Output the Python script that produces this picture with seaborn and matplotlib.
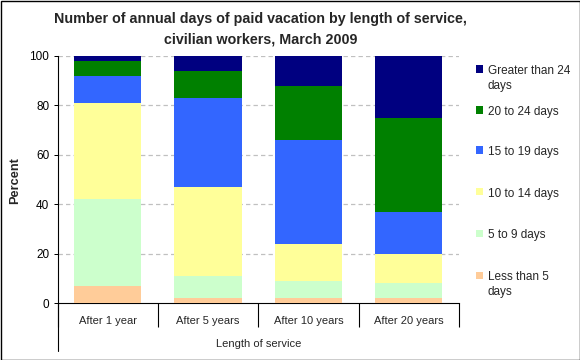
import textwrap
import numpy as np
import pandas as pd
import matplotlib
matplotlib.use("Agg")
import matplotlib.pyplot as plt
from matplotlib.patches import Rectangle
from matplotlib.lines import Line2D
import seaborn as sns

# ---- data ----
categories = ["After 1 year", "After 5 years", "After 10 years", "After 20 years"]
series_names = ["Less than 5 days", "5 to 9 days", "10 to 14 days",
                "15 to 19 days", "20 to 24 days", "Greater than 24 days"]
less_than_5 = [7, 2, 2, 2]
days_5_9 = [35, 9, 7, 6]
days_10_14 = [39, 36, 15, 12]
days_15_19 = [11, 36, 42, 17]
days_20_24 = [6, 11, 22, 38]
greater_24 = [2, 6, 12, 25]
series_values = [less_than_5, days_5_9, days_10_14, days_15_19, days_20_24, greater_24]
colors = ["#FFCC99", "#CCFFCC", "#FFFF99", "#3366FF", "#008000", "#000080"]
y_ticks = [0, 20, 40, 60, 80, 100]
title = "Number of annual days of paid vacation by length of service,\ncivilian workers, March 2009"
x_label = "Length of service"
y_label = "Percent"

sns.set_theme(style="white")
plt.rcParams["font.family"] = ["Liberation Sans", "DejaVu Sans"]

W, H = 580, 360
fig = plt.figure(figsize=(W / 100, H / 100), dpi=100)
fig.patch.set_facecolor("white")

ax_l, ax_r, ax_t, ax_b = 57.5, 459, 56, 303
ax = fig.add_axes([ax_l / W, 1 - ax_b / H, (ax_r - ax_l) / W, (ax_b - ax_t) / H])
ax.set_facecolor("white")

bottom = np.zeros(len(categories))
for name, vals, col in zip(series_names, series_values, colors):
    sns.barplot(x=categories, y=vals, bottom=bottom, color=col, width=0.67,
                saturation=1, linewidth=0, errorbar=None, ax=ax, zorder=3)
    bottom = bottom + np.array(vals)

ax.set_xlim(-0.5, len(categories) - 0.5)
ax.set_ylim(0, 100)
ax.set_yticks(y_ticks)
ax.set_yticklabels([str(t) for t in y_ticks], fontsize=8.5)
ax.tick_params(axis="y", direction="out", length=3, width=0.72, pad=3,
               left=True, colors="black")
for t in y_ticks[1:]:
    ax.axhline(t, color="#C0C0C0", lw=0.9, ls=(0, (3.5, 2.5)), zorder=1)

# category axis with separators
ax.set_xticks(np.arange(-0.5, len(categories)), minor=False)
ax.set_xticklabels([""] * (len(categories) + 1))
ax.set_xticks(np.arange(len(categories)), minor=True)
ax.set_xticklabels(categories, minor=True, fontsize=8)
ax.tick_params(axis="x", which="major", direction="out", length=17.3, width=0.8,
               bottom=True, colors="black")
ax.tick_params(axis="x", which="minor", length=0, pad=9, bottom=True)
ax.xaxis.set_label_text(x_label, fontsize=8)
ax.xaxis.set_label_coords(0.5, -0.166)
ax.xaxis.label.set_va("center")
ax.set_ylabel("")

for side in ["top", "right"]:
    ax.spines[side].set_visible(False)
for side in ["left", "bottom"]:
    ax.spines[side].set_color("black")
    ax.spines[side].set_linewidth(0.8)
ax.add_line(Line2D([0, 0], [0, -48 / 247], transform=ax.transAxes, color="black",
                   lw=0.8, clip_on=False))

fig.text(15.5 / W, 1 - 181 / H, y_label, rotation=90, ha="center", va="center",
         fontsize=9.2, fontweight="bold")
fig.text(((ax_l + ax_r) / 2 + 2) / W, 1 - 44 / H, title, ha="center", va="baseline",
         fontsize=10.3, fontweight="bold", linespacing=1.62)

# legend (top to bottom: reverse of stacking order)
leg_y = [69, 110, 150, 192, 233, 275]
line_step = 15
for yc, name, col in zip(leg_y, series_names[::-1], colors[::-1]):
    fig.patches.append(Rectangle((476 / W, 1 - (yc + 3.5) / H), 7 / W, 7 / H,
                                 transform=fig.transFigure, facecolor=col,
                                 edgecolor="none"))
    label = textwrap.fill(name, 15)
    n_lines = label.count("\n") + 1
    fig.text(488 / W, 1 - (yc + 4.8 + (n_lines - 1) * line_step) / H, label,
             ha="left", va="baseline", fontsize=8.5, linespacing=1.36)

fig.patches.append(Rectangle((0.5 / W, 0.5 / H), (W - 1) / W, (H - 1) / H,
                             transform=fig.transFigure, facecolor="none",
                             edgecolor="black", lw=1.0))

fig.savefig("out.png", dpi=100)
